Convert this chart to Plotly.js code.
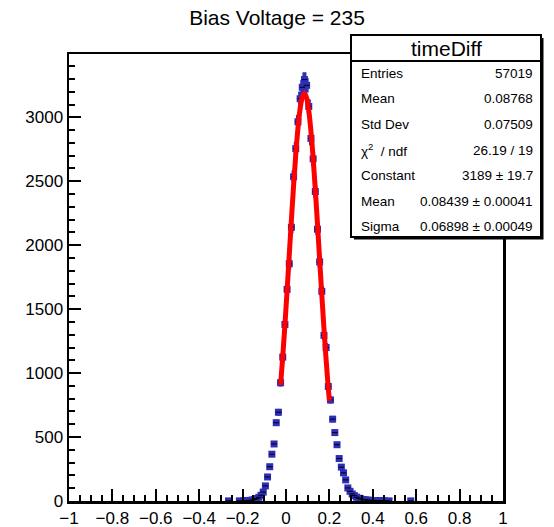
<!DOCTYPE html>
<html>
<head>
<meta charset="utf-8">
<script src="https://cdn.plot.ly/plotly-3.0.1.min.js"></script>
<style>
  html, body { margin: 0; padding: 0; background: #ffffff; }
  #chart { width: 554px; height: 527px; }
</style>
</head>
<body>
<div id="chart"></div>
<script>
// ---- Data (bin width 0.01) ----
const binCenters = [
  -0.265, -0.215, -0.195, -0.185, -0.175, -0.165, -0.155, -0.145, -0.135, -0.125,
  -0.115, -0.105, -0.095, -0.085, -0.075, -0.065, -0.055, -0.045, -0.035, -0.025,
  -0.015, -0.005, 0.005, 0.015, 0.025, 0.035, 0.045, 0.055, 0.065, 0.075,
  0.085, 0.095, 0.105, 0.115, 0.125, 0.135, 0.145, 0.155, 0.165, 0.175,
  0.185, 0.195, 0.205, 0.215, 0.225, 0.235, 0.245, 0.255, 0.265, 0.275,
  0.285, 0.295, 0.305, 0.315, 0.325, 0.335, 0.345, 0.355, 0.365, 0.375,
  0.385, 0.395, 0.405, 0.415, 0.425, 0.435, 0.445, 0.455, 0.475, 0.575
];
const binCounts = [
  1, 1, 2, 2, 3, 5, 8, 12, 19, 29,
  45, 70, 118, 188, 268, 366, 446, 612, 694, 925,
  1125, 1380, 1655, 1855, 2140, 2535, 2755, 2965, 3145, 3235,
  3295, 3250, 3085, 2835, 2675, 2420, 2125, 1870, 1640, 1295,
  1200, 895, 790, 640, 535, 440, 332, 265, 220, 165,
  102, 76, 55, 42, 30, 22, 16, 12, 9, 7,
  6, 4, 4, 3, 3, 2, 2, 1, 1, 1
];
// Gaussian fit curve as drawn
const fitX = [
  -0.025, -0.015, -0.005, 0.005, 0.015, 0.025, 0.035, 0.045, 0.055, 0.065,
  0.075, 0.085, 0.095, 0.105, 0.115, 0.125, 0.135, 0.145, 0.155, 0.165,
  0.175, 0.185, 0.195, 0.200
];
const fitY = [
  907, 1130, 1377, 1645, 1923, 2201, 2468, 2709, 2912, 3066,
  3160, 3189, 3151, 3050, 2890, 2682, 2437, 2168, 1889, 1611,
  1346, 1101, 882, 783
];
// Stats box text
const statsTitle = "timeDiff";
const statsLabels = ["Entries", "Mean", "Std Dev", "χ<sup>2</sup>  / ndf", "Constant", "Mean", "Sigma"];
const statsValues = ["57019", "0.08768", "0.07509", "26.19 / 19", "3189 ± 19.7", "0.08439 ± 0.00041", "0.06898 ± 0.00049"];
const chartTitle = "Bias Voltage = 235";
const yTicks = [0, 500, 1000, 1500, 2000, 2500, 3000];

// ---- Layout helpers (pixel -> paper) ----
const L = 69, R = 503, T = 54, B = 501;
const px = x => (x - L) / (R - L);
const py = y => (B - y) / (B - T);

const FONT = "Liberation Sans, Arial, Helvetica, sans-serif";
const BLUE = "#2e2eb8";

const errs = binCounts.map(v => Math.sqrt(v));

const dataTrace = {
  type: "scatter", mode: "markers",
  x: binCenters, y: binCounts,
  marker: { symbol: "square", size: 7, color: BLUE },
  error_y: { type: "data", array: errs, visible: true, color: BLUE, thickness: 4, width: 0 },
  error_x: { type: "constant", value: 0.013, visible: true, color: BLUE, thickness: 4, width: 0 },
  hoverinfo: "x+y", showlegend: false
};
const centerTrace = {
  type: "scatter", mode: "markers",
  x: binCenters, y: binCounts,
  marker: { symbol: "line-ew", size: 4, color: "black", line: { color: "black", width: 1 } },
  hoverinfo: "skip", showlegend: false
};
const fitTrace = {
  type: "scatter", mode: "lines",
  x: fitX, y: fitY,
  line: { color: "#ff0000", width: 5, shape: "spline" },
  hoverinfo: "skip", showlegend: false
};

const shapes = [
  { type: "rect", xref: "paper", yref: "paper", x0: px(354), x1: px(543.5), y0: py(239.5), y1: py(38),
    fillcolor: "black", line: { width: 0 }, layer: "above" },
  { type: "rect", xref: "paper", yref: "paper", x0: px(351), x1: px(541), y0: py(237), y1: py(35),
    fillcolor: "white", line: { color: "black", width: 2 }, layer: "above" },
  { type: "line", xref: "paper", yref: "paper", x0: px(351), x1: px(541), y0: py(61), y1: py(61),
    line: { color: "black", width: 2 }, layer: "above" }
];

const annotations = [
  { xref: "paper", yref: "paper", x: px(446), y: py(48.5), text: statsTitle, showarrow: false,
    xanchor: "center", yanchor: "middle", font: { family: FONT, size: 21, color: "black" } }
];
statsLabels.forEach((t, i) => {
  const yy = 73.5 + i * 25.5;
  annotations.push({ xref: "paper", yref: "paper", x: px(359), y: py(yy), text: t, showarrow: false,
    xanchor: "left", yanchor: "middle", font: { family: FONT, size: 13.5, color: "black" } });
  annotations.push({ xref: "paper", yref: "paper", x: px(535), y: py(yy), text: statsValues[i], showarrow: false,
    xanchor: "right", yanchor: "middle", font: { family: FONT, size: 13.5, color: "black" } });
});

const layout = {
  width: 554, height: 527,
  margin: { l: L, r: 554 - R, t: T, b: 527 - B, pad: 0 },
  paper_bgcolor: "white", plot_bgcolor: "white",
  font: { family: FONT, color: "black" },
  title: { text: chartTitle, x: 0.5, xref: "container", y: 1 - 18 / 527, yref: "container",
           xanchor: "center", yanchor: "middle", font: { family: FONT, size: 21, color: "black" } },
  xaxis: {
    range: [-1, 1], dtick: 0.2, tick0: -1,
    showgrid: false, zeroline: false,
    showline: true, linecolor: "black", linewidth: 2.5, mirror: true,
    ticks: "inside", ticklen: 12, tickwidth: 2, tickcolor: "black",
    minor: { dtick: 0.05, ticks: "inside", ticklen: 6, tickwidth: 2, tickcolor: "black", showgrid: false },
    tickfont: { family: FONT, size: 17, color: "black" }
  },
  yaxis: {
    range: [0, 3495], tickvals: yTicks,
    showgrid: false, zeroline: false,
    showline: true, linecolor: "black", linewidth: 2.5, mirror: true,
    ticks: "inside", ticklen: 12, tickwidth: 2, tickcolor: "black",
    minor: { dtick: 100, ticks: "inside", ticklen: 6, tickwidth: 2, tickcolor: "black", showgrid: false },
    tickfont: { family: FONT, size: 17, color: "black" }
  },
  shapes: shapes,
  annotations: annotations,
  showlegend: false
};

Plotly.newPlot("chart", [dataTrace, centerTrace, fitTrace], layout, { displayModeBar: false, staticPlot: true });
</script>
</body>
</html>
